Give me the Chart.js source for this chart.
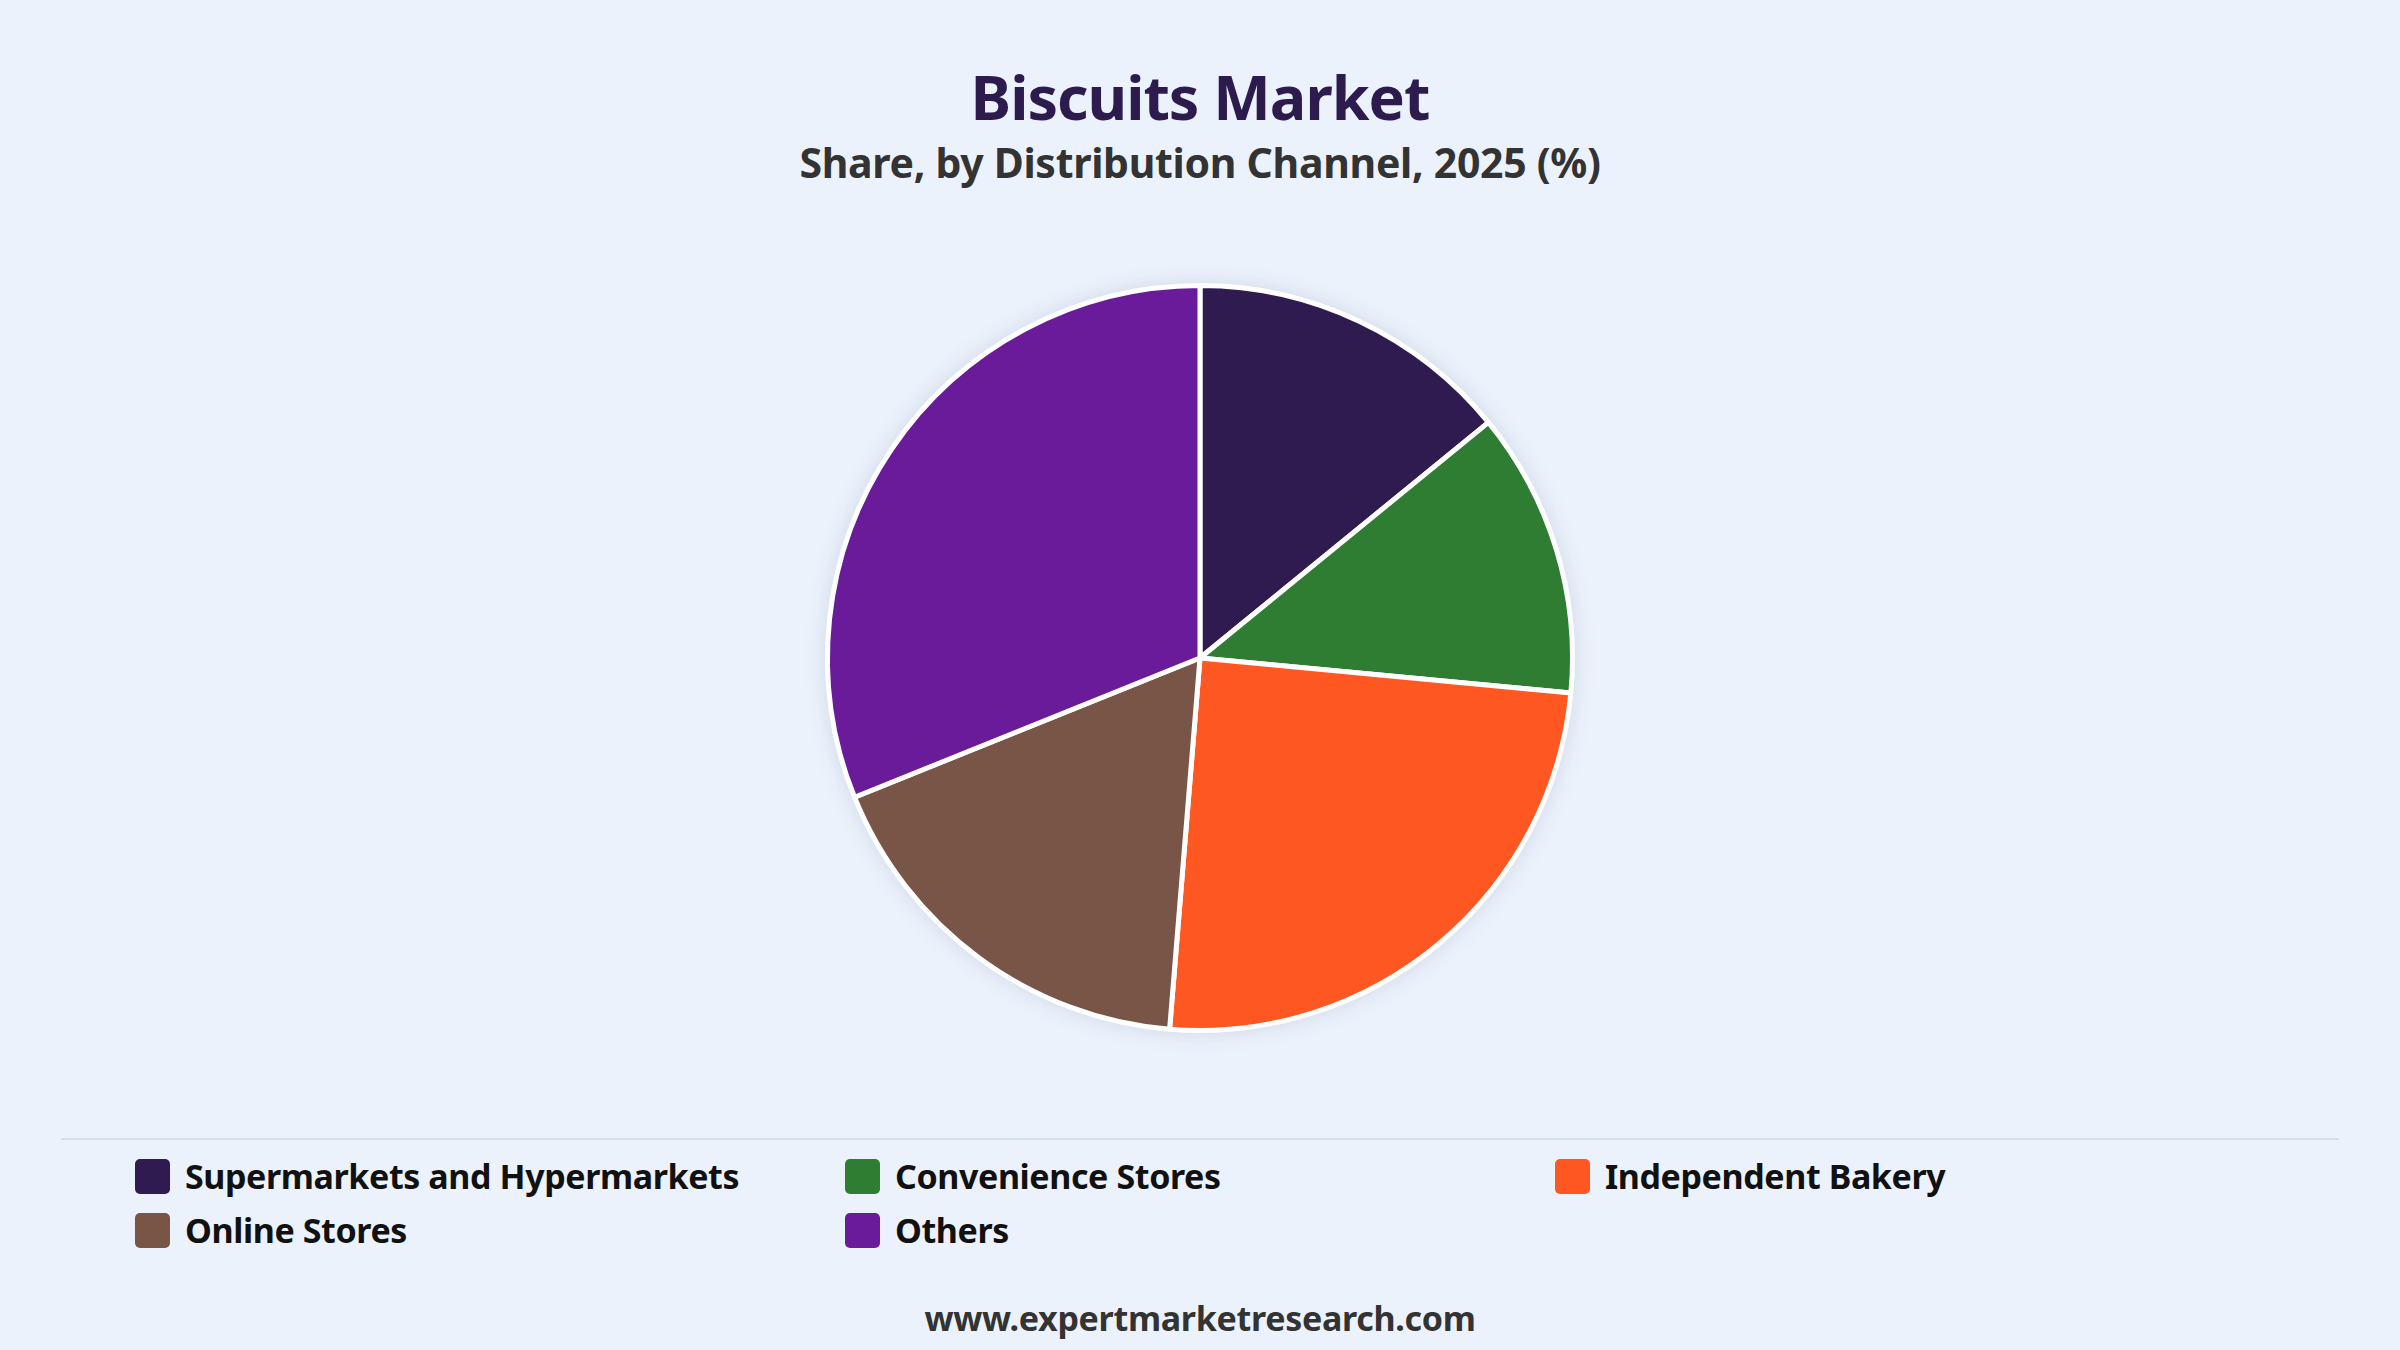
<!DOCTYPE html>
<html lang="en">

<head>
    <meta charset="UTF-8">
    <script src="https://cdn.jsdelivr.net/npm/chart.js"></script>
    <title>Biscuits Market</title>
    <style>
        body {
            margin: 0;
            width: 2400px;
            height: 1350px;
            background-color: #EBF2FC;
            font-family: 'Noto Sans', 'Open Sans', sans-serif;
            position: relative;
            overflow: hidden;
        }

        #title {
            position: absolute;
            top: 55px;
            width: 100%;
            text-align: center;
            font-size: 61px;
            font-weight: 700;
            color: #2D1B4E;
            letter-spacing: -1px;
        }

        #subtitle {
            position: absolute;
            top: 134px;
            width: 100%;
            text-align: center;
            font-size: 41px;
            font-weight: 700;
            color: #333333;
            letter-spacing: -0.3px;
        }

        .chart-container {
            position: absolute;
            left: 0;
            top: 273px;
            width: 2400px;
            height: 770px;
        }

        #chart_pie {
            filter: drop-shadow(0 0 10px rgba(40, 50, 90, 0.13));
        }

        #rule {
            position: absolute;
            left: 61px;
            top: 1138px;
            width: 2278px;
            height: 2px;
            background: #DADDE3;
        }

        #legend {
            position: absolute;
            left: 135px;
            top: 1155px;
            width: 2200px;
            display: grid;
            grid-template-columns: 710px 710px 710px;
            row-gap: 12px;
        }

        .legend-item {
            display: flex;
            align-items: center;
            height: 42px;
            font-size: 34px;
            font-weight: 700;
            color: #111111;
            letter-spacing: -0.4px;
        }

        .legend-box {
            width: 35px;
            height: 35px;
            border-radius: 5px;
            margin-right: 15px;
            flex: none;
        }

        #footer {
            position: absolute;
            top: 1295px;
            width: 100%;
            text-align: center;
            font-size: 34px;
            font-weight: 700;
            color: #333333;
            letter-spacing: -0.3px;
        }
    </style>
</head>

<body>
    <div id="title">Biscuits Market</div>
    <div id="subtitle">Share, by Distribution Channel, 2025 (%)</div>
    <div class="chart-container">
        <canvas id="chart_pie"></canvas>
    </div>
    <div id="rule"></div>
    <div id="legend"></div>
    <div id="footer">www.expertmarketresearch.com</div>
    <script>
        const channels = ["Supermarkets and Hypermarkets", "Convenience Stores", "Independent Bakery", "Online Stores", "Others"];
        const shares = [14.1, 12.4, 24.8, 17.6, 31.1];
        const colours = ["#2F1B4F", "#2E7D32", "#FF5722", "#795548", "#6A1B9A"];

        // legend drawn as html, in the same order as the slices
        let legend = document.getElementById("legend");
        channels.forEach((name, i) => {
            let item = document.createElement("div");
            item.className = "legend-item";
            let box = document.createElement("span");
            box.className = "legend-box";
            box.style.background = colours[i];
            item.appendChild(box);
            item.appendChild(document.createTextNode(name));
            legend.appendChild(item);
        });

        let ctx = document.getElementById("chart_pie").getContext('2d');
        let chart = new Chart(ctx, {
            type: 'pie',
            data: {
                labels: channels,
                datasets: [{
                    data: shares,
                    backgroundColor: colours,
                    borderColor: "#FFFFFF",
                    borderWidth: 5
                }]
            },
            options: {
                responsive: true,
                maintainAspectRatio: false,
                animation: false,
                layout: {padding: 10},
                plugins: {
                    legend: {display: false},
                    tooltip: {enabled: false}
                }
            }
        });
    </script>
</body>

</html>
